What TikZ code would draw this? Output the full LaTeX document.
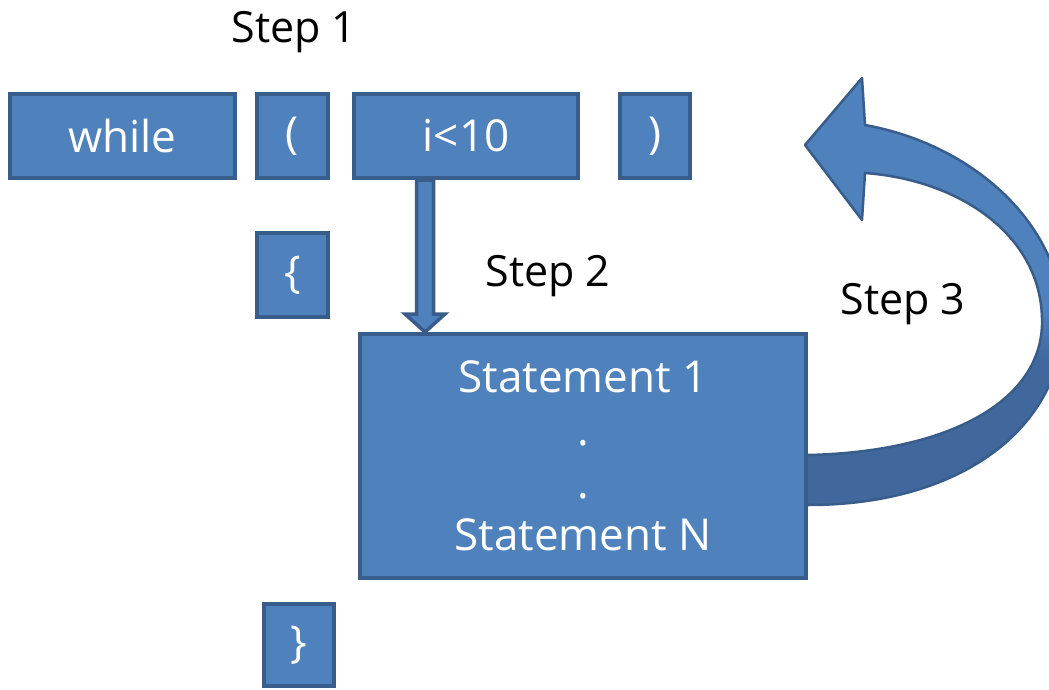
\documentclass[tikz,border=0pt]{standalone}
\usepackage{fontspec}
\setmainfont{Open Sans}
\usetikzlibrary{calc,backgrounds}
\definecolor{boxFill}{RGB}{79,129,189}
\definecolor{boxEdge}{RGB}{56,93,138}
\definecolor{loopDark}{RGB}{64,104,156}
% light upper half, darker lower half for the loop-back band
\pgfdeclareverticalshading{loopshade}{100bp}{color(0bp)=(loopDark); color(42bp)=(loopDark); color(48bp)=(boxFill); color(100bp)=(boxFill)}
\begin{document}
\begin{tikzpicture}[x=1pt,y=-1pt,
  token/.style={draw=boxEdge, fill=boxFill, line width=4pt, text=white,
    font=\fontsize{44}{52.7}\selectfont, inner sep=0pt, minimum height=84pt},
  steplabel/.style={anchor=base, font=\fontsize{43}{50}\selectfont, text=black, inner sep=0pt},
  flowline/.style={draw=boxEdge, fill=boxFill, line width=3.5pt, line join=miter},
  loopband/.style={shading=loopshade, draw=boxEdge, line width=2.5pt, line join=round},
]
\useasboundingbox (0,0) rectangle (1049,690);

% the tokens of the loop header
\node[token, minimum width=225pt] (kw)   at (122.5,136) {while};
\node[token, minimum width=71pt]  (lp)   at (292.5,136) {(};
\node[token, minimum width=224pt] (cond) at (466,136)   {i<10};
\node[token, minimum width=70pt]  (rp)   at (655,136)   {)};
\node[token, minimum width=71pt]  (lb)   at (292.5,275) {\{};
% loop body
\node[token, minimum width=446pt, minimum height=244pt, align=center] (body) at (583,456)
  {Statement 1\\.\\.\\Statement N};
\node[token, minimum width=70pt, minimum height=82pt] (rb) at (299,645) {\}};

% step labels
\node[steplabel] (s1) at (294,43)  {Step 1};
\node[steplabel] (s2) at (548,286) {Step 2};
\node[steplabel] (s3) at (903,314) {Step 3};

% condition true: go into the body
\coordinate (dtop) at ($(cond.south)+(-41,0)$);
\coordinate (dbot) at (dtop |- body.north);
\draw[flowline] ($(dtop)+(-8.5,0)$) -- ($(dbot)+(-8.5,-18)$) -- ($(dbot)+(-20,-18)$)
  -- (dbot) -- ($(dbot)+(20,-18)$) -- ($(dbot)+(8.5,-18)$) -- ($(dtop)+(8.5,0)$) -- cycle;

% after the body: back to the condition
\coordinate (looptip) at (805,145);
\coordinate (tailin)  at (800,455);
\coordinate (tailout) at (800,505);
\begin{scope}[on background layer]
  \fill[white] (0,0) rectangle (1049,690);
  \clip (0,0) rectangle (1049,690);
  \shadedraw[loopband] (tailin) -- (808,455)
    .. controls (950,452) and (1045,400) .. (1042,318)
    .. controls (1040,235) and (960,180) .. (865,173)
    -- (862,220) -- (looptip) -- (862,78) -- (865,125)
    .. controls (975,145) and (1060,225) .. (1063,318)
    .. controls (1065,420) and (970,505) .. (808,505)
    -- (tailout) -- cycle;
\end{scope}
\end{tikzpicture}
\end{document}
